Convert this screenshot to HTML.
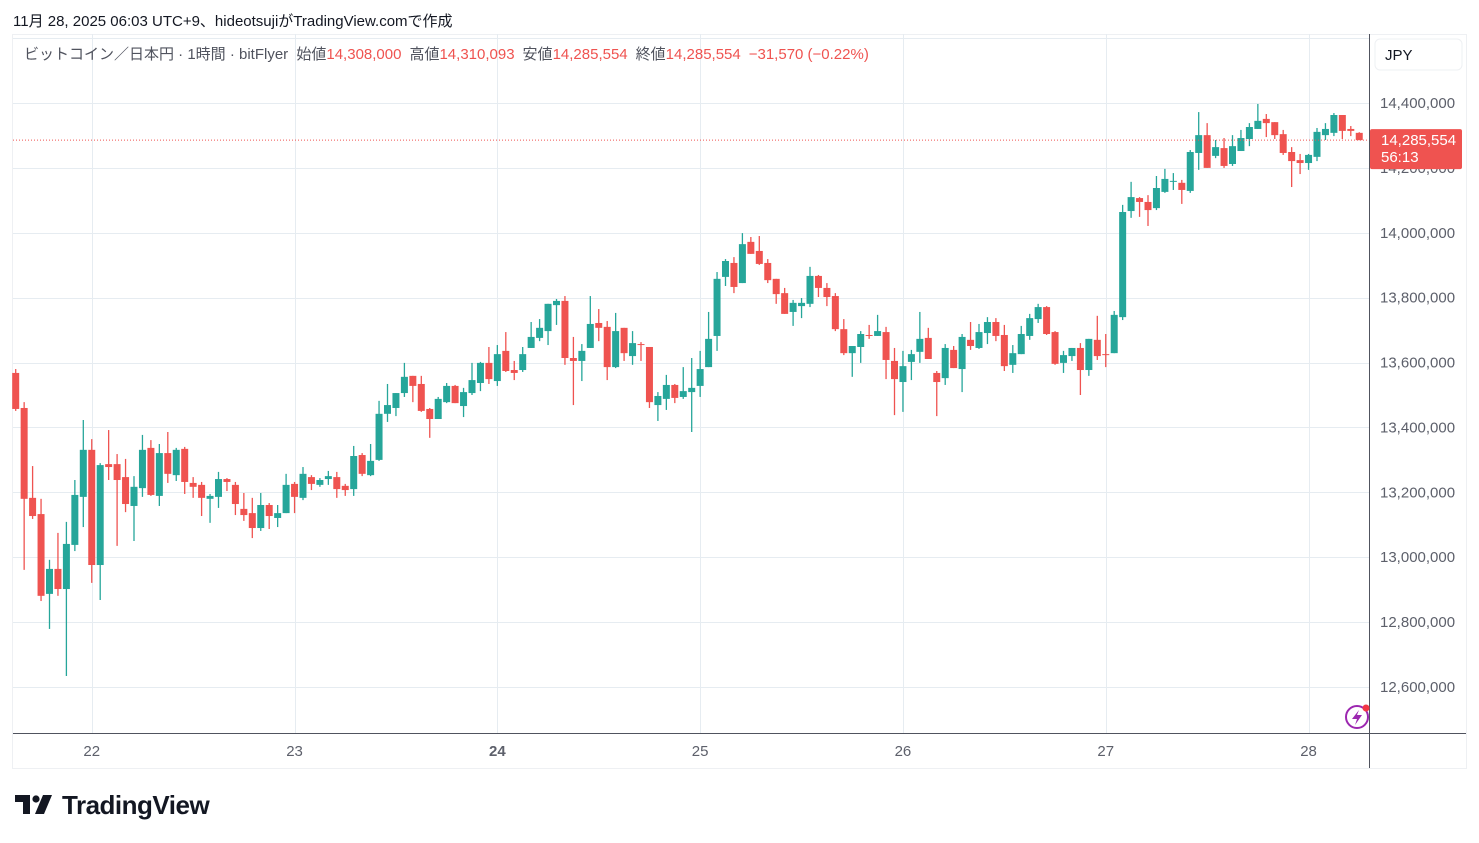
<!DOCTYPE html>
<html><head><meta charset="utf-8">
<style>
body{margin:0;background:#fff;width:1479px;height:843px;overflow:hidden;font-family:"Liberation Sans","Noto Sans CJK JP",sans-serif;}
#hdr{position:absolute;left:13px;top:10px;font-size:15px;color:#131722;}
#chart{position:absolute;left:0;top:0;}
#logo{position:absolute;left:62px;top:790px;font-size:26px;font-weight:bold;color:#131722;letter-spacing:-0.5px;}
#logoicon{position:absolute;left:15px;top:795px;}
</style></head><body>
<div id="hdr">11月 28, 2025 06:03 UTC+9、hideotsujiがTradingView.comで作成</div>
<svg id="chart" width="1479" height="843"></svg>
<svg id="logoicon" width="40" height="22"><path d="M0 0 H15 V19 H8 V7 H0 Z" fill="#131722"/><circle cx="21" cy="4" r="3.6" fill="#131722"/><path d="M28 0 H37 L29 19 H20 Z" fill="#131722"/></svg>
<div id="logo">TradingView</div>
<script>
const opens=[13568,13460,13183,13133,12887,12964,12902,13038,13186,13331,12976,13287,13287,13247,13158,13213,13337,13189,13321,13253,13334,13229,13223,13180,13186,13241,13223,13149,13136,13090,13161,13121,13136,13226,13183,13247,13223,13241,13247,13220,13210,13315,13253,13300,13442,13460,13506,13559,13534,13457,13426,13478,13528,13466,13506,13537,13599,13543,13636,13577,13577,13645,13676,13697,13777,13790,13614,13605,13645,13722,13710,13586,13707,13620,13657,13648,13469,13488,13531,13494,13509,13528,13586,13682,13864,13907,13845,13972,13944,13907,13858,13814,13756,13774,13781,13867,13830,13805,13703,13629,13648,13685,13682,13694,13605,13540,13602,13633,13676,13568,13552,13639,13580,13670,13645,13691,13725,13685,13593,13626,13682,13734,13771,13694,13599,13620,13645,13577,13670,13626,13629,13740,14067,14107,14095,14076,14126,14157,14154,14129,14246,14301,14237,14261,14212,14252,14289,14320,14351,14341,14304,14249,14224,14215,14234,14301,14308,14363,14320,14308];
const highs=[13580,13478,13281,13180,12992,13075,13109,13238,13423,13364,13290,13392,13318,13303,13250,13377,13361,13349,13386,13337,13340,13247,13232,13195,13263,13244,13232,13198,13183,13198,13167,13161,13257,13232,13278,13253,13244,13266,13263,13226,13343,13321,13349,13482,13534,13506,13599,13559,13559,13460,13494,13537,13531,13522,13599,13602,13648,13654,13694,13605,13648,13725,13734,13781,13796,13805,13679,13657,13805,13765,13728,13753,13707,13697,13663,13648,13509,13562,13534,13586,13614,13636,13756,13879,13919,13925,13999,13987,13990,13919,13858,13830,13793,13799,13895,13870,13845,13814,13734,13651,13697,13716,13747,13710,13645,13636,13639,13756,13707,13574,13657,13651,13688,13725,13719,13740,13737,13716,13654,13713,13750,13781,13774,13697,13636,13645,13660,13673,13744,13688,13759,14086,14157,14110,14116,14175,14197,14184,14163,14255,14372,14338,14286,14292,14301,14317,14338,14397,14366,14341,14317,14264,14243,14243,14323,14338,14369,14363,14329,14310];
const lows=[13451,12961,13118,12865,12779,12881,12634,13019,13093,12921,12868,13238,13035,13139,13050,13186,13189,13158,13229,13235,13195,13183,13127,13106,13152,13204,13130,13112,13059,13081,13087,13093,13136,13136,13176,13207,13217,13223,13183,13189,13189,13250,13250,13297,13417,13435,13494,13478,13448,13368,13426,13475,13475,13432,13500,13512,13534,13528,13571,13546,13571,13645,13666,13654,13716,13593,13469,13543,13645,13666,13546,13583,13605,13593,13605,13460,13420,13454,13475,13488,13386,13494,13586,13636,13836,13814,13845,13935,13901,13845,13781,13750,13713,13737,13771,13802,13774,13697,13623,13556,13599,13673,13682,13549,13438,13448,13546,13599,13611,13435,13531,13583,13509,13639,13642,13657,13666,13574,13568,13626,13670,13722,13685,13593,13568,13605,13500,13559,13608,13586,13629,13731,14046,14049,14021,14070,14123,14132,14089,14123,14194,14200,14230,14200,14206,14252,14267,14320,14295,14289,14240,14141,14181,14194,14221,14286,14298,14289,14298,14285.554];
const closes=[13457,13180,13127,12881,12964,12902,13041,13192,13331,12976,13284,13278,13238,13164,13217,13331,13192,13321,13257,13331,13232,13217,13183,13189,13241,13232,13164,13130,13090,13161,13127,13136,13223,13186,13257,13226,13238,13250,13210,13207,13312,13257,13297,13442,13469,13506,13556,13528,13451,13426,13488,13528,13475,13509,13546,13599,13549,13626,13574,13568,13626,13679,13707,13781,13790,13614,13605,13636,13719,13707,13586,13697,13629,13660,13654,13478,13497,13531,13491,13512,13522,13580,13673,13858,13913,13833,13965,13935,13904,13854,13811,13750,13784,13784,13867,13830,13802,13703,13629,13651,13688,13682,13697,13608,13549,13589,13626,13673,13611,13540,13645,13583,13679,13651,13694,13725,13682,13589,13629,13688,13737,13771,13688,13596,13623,13645,13577,13673,13620,13623,13747,14064,14110,14095,14070,14138,14166,14160,14132,14249,14301,14200,14264,14206,14267,14292,14326,14345,14338,14301,14246,14221,14215,14240,14311,14320,14363,14314,14314,14285.554];
const priceTicks=[14400000,14200000,14000000,13800000,13600000,13400000,13200000,13000000,12800000,12600000];
const dayLabels=['22','23','24','25','26','27','28'];
const dayStartIdx=[9,33,57,81,105,129,153];

const svg=document.getElementById('chart');
const NS='http://www.w3.org/2000/svg';
const PL=13,PR=1369,PT=34,PB=733;
function yScale(p){return 103+(14400000-p)/200000*64.89;}
function xScale(i){return 15.7+i*8.45;}
function mk(tag,attrs,parent){const e=document.createElementNS(NS,tag);for(const k in attrs)e.setAttribute(k,attrs[k]);(parent||svg).appendChild(e);return e;}
let fr=mk('rect',{x:12.5,y:34.5,width:1454,height:734,fill:'none',stroke:'#eef0f3','stroke-width':1});


const grid=mk('g',{});


for(let p=14600000;p>=12600000;p-=200000){const y=Math.round(yScale(p))+0.5;mk('line',{x1:PL,x2:PR,y1:y,y2:y,stroke:'#e6ecf1'},grid);}
dayStartIdx.forEach(i=>{const x=Math.round(xScale(i))+0.5;mk('line',{x1:x,x2:x,y1:PT,y2:PB,stroke:'#e6ecf1'},grid);});
const cg=mk('g',{});


for(let i=0;i<opens.length;i++){
 const o=opens[i]*1000,c=closes[i]*1000,h=highs[i]*1000,l=lows[i]*1000;
 const up=c>=o,col=up?'#26a69a':'#ef5350';
 const x=xScale(i);
 const g=mk('g',{},cg);
 
 
 mk('line',{x1:x,x2:x,y1:yScale(h),y2:yScale(l),stroke:col,'stroke-width':1.3},g);
 const yt=yScale(Math.max(o,c)),yb=yScale(Math.min(o,c));
 mk('rect',{x:x-3.5,y:yt,width:7,height:Math.max(1,yb-yt),fill:col},g);
}
const lastP=closes[closes.length-1]*1000,ly=yScale(lastP);
let lp=mk('line',{x1:PL,x2:PR,y1:ly,y2:ly,stroke:'#ef5350','stroke-dasharray':'1 2','stroke-width':1});


let ax=mk('line',{x1:PR+0.5,x2:PR+0.5,y1:PT,y2:768,stroke:'#50535e'});


let ax2=mk('line',{x1:PL,x2:1466,y1:PB+0.5,y2:PB+0.5,stroke:'#50535e'});


priceTicks.forEach(p=>{const t=mk('text',{x:1380,y:yScale(p)+5,'font-size':15,fill:'#5d606b'});t.textContent=p.toLocaleString('en-US');
 
 });
dayLabels.forEach((d,k)=>{const t=mk('text',{x:xScale(dayStartIdx[k]),y:756,'font-size':15,fill:'#5d606b','text-anchor':'middle','font-weight':d==='24'?'bold':'normal'});t.textContent=d;
 
 });
const bg=mk('g',{});


mk('rect',{x:1370,y:ly-11,width:92,height:40,fill:'#ef5350',rx:2},bg);
let t1=mk('text',{x:1381,y:ly+5,'font-size':15,fill:'#fff'},bg);t1.textContent=lastP.toLocaleString('en-US',{maximumFractionDigits:0});
let t2=mk('text',{x:1381,y:ly+22,'font-size':15,fill:'#fff'},bg);t2.textContent='56:13';
const jb=mk('g',{});


mk('rect',{x:1375,y:39,width:87,height:31,rx:5,fill:'#fff',stroke:'#eef0f3'},jb);
let jt=mk('text',{x:1385,y:60,'font-size':15,fill:'#131722'},jb);jt.textContent='JPY';
const lg=mk('text',{x:24,y:59,'font-size':15,fill:'#50535e'});


lg.innerHTML='ビットコイン／日本円 · 1時間 · bitFlyer <tspan dx="4">始値</tspan><tspan fill="#ef5350">14,308,000</tspan><tspan dx="8">高値</tspan><tspan fill="#ef5350">14,310,093</tspan><tspan dx="8">安値</tspan><tspan fill="#ef5350">14,285,554</tspan><tspan dx="8">終値</tspan><tspan fill="#ef5350">14,285,554</tspan><tspan dx="8" fill="#ef5350">−31,570 (−0.22%)</tspan>';
const li=mk('g',{});


mk('circle',{cx:1357,cy:717,r:11,fill:'none',stroke:'#9c27b0','stroke-width':2},li);
mk('path',{d:'M1359 710 L1352 719 L1357 719 L1355 725 L1362 715 L1357 715 Z',fill:'#9c27b0'},li);
mk('circle',{cx:1366,cy:708,r:3.5,fill:'#f23645'},li);
</script>
</body></html>
